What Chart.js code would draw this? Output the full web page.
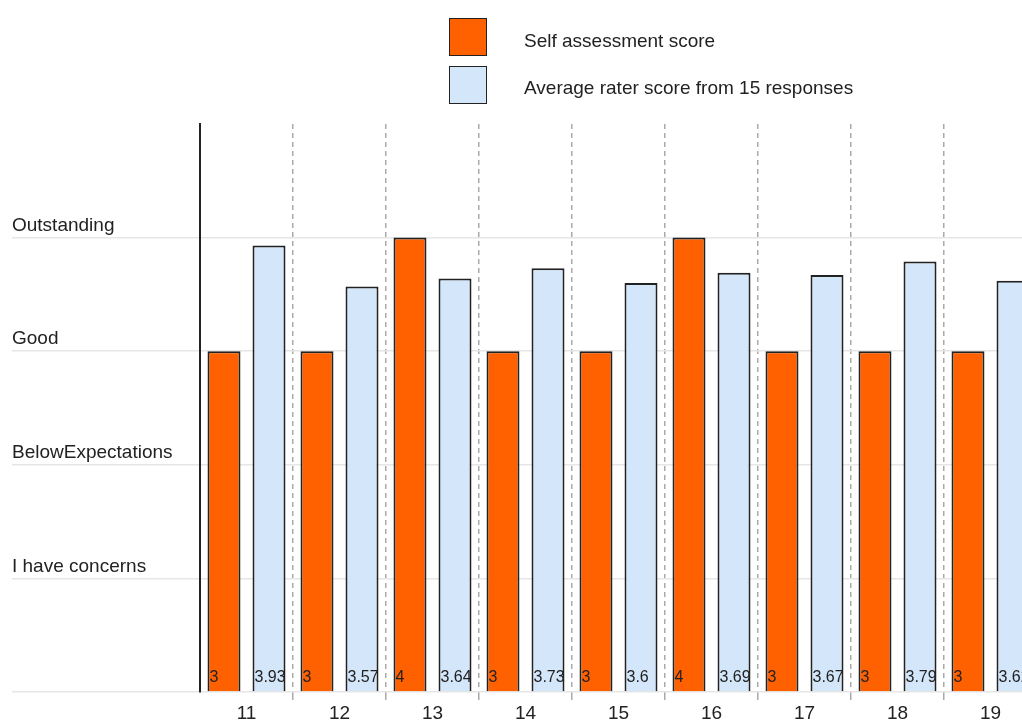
<!DOCTYPE html>
<html>
<head>
<meta charset="utf-8">
<script src="https://cdn.jsdelivr.net/npm/chart.js@4/dist/chart.umd.min.js"></script>
<style>
  html, body { margin: 0; padding: 0; background: #fff; overflow: hidden; width: 1022px; height: 722px; }
  #wrap { position: absolute; left: 0; top: 0; width: 1040px; height: 722px; }
  .leg { position: absolute; left: 449px; width: 36px; height: 36px; border: 1.5px solid #222; }
  .legt { position: absolute; left: 524px; font: 19px "Liberation Sans", Arial, sans-serif; color: #222; white-space: nowrap; }
</style>
</head>
<body>
<div id="wrap"><canvas id="c" width="1040" height="722"></canvas></div>
<div class="leg" style="top:18px;background:#FF6000"></div>
<div class="legt" style="top:30px">Self assessment score</div>
<div class="leg" style="top:66px;background:#D3E6FA"></div>
<div class="legt" style="top:77px">Average rater score from 15 responses</div>
<script>
const categories = ["11", "12", "13", "14", "15", "16", "17", "18", "19"];
const selfScores = [3, 3, 4, 3, 3, 4, 3, 3, 3];
const raterScores = [3.93, 3.57, 3.64, 3.73, 3.6, 3.69, 3.67, 3.79, 3.62];
const yLabels = { 1: "I have concerns", 2: "BelowExpectations", 3: "Good", 4: "Outstanding" };
const seriesNames = ["Self assessment score", "Average rater score from 15 responses"];

const FONT = '"Liberation Sans", Arial, sans-serif';

const barLabels = {
  id: 'barLabels',
  afterDatasetsDraw(chart) {
    const ctx = chart.ctx;
    ctx.save();
    ctx.font = '16px ' + FONT;
    ctx.fillStyle = '#222';
    ctx.textAlign = 'left';
    ctx.textBaseline = 'alphabetic';
    chart.data.datasets.forEach((ds, di) => {
      const meta = chart.getDatasetMeta(di);
      meta.data.forEach((bar, i) => {
        const left = bar.x - bar.width / 2;
        ctx.save();
        ctx.beginPath();
        ctx.rect(left, bar.y, bar.width - 1, bar.base - bar.y);
        ctx.clip();
        ctx.fillText(String(ds.data[i]), left + 2, bar.base - 9);
        ctx.restore();
      });
    });
    ctx.restore();
  }
};

new Chart(document.getElementById('c'), {
  type: 'bar',
  data: {
    labels: categories,
    datasets: [
      { label: seriesNames[0], data: selfScores, backgroundColor: '#FF6000', borderColor: '#222', borderWidth: 2,
        categoryPercentage: 0.968, barPercentage: 0.733 },
      { label: seriesNames[1], data: raterScores, backgroundColor: '#D3E6FA', borderColor: '#222', borderWidth: 2,
        categoryPercentage: 0.968, barPercentage: 0.733 }
    ]
  },
  options: {
    responsive: false,
    animation: false,
    layout: { padding: { left: 12, right: 3, top: 124, bottom: 0 } },
    plugins: { legend: { display: false }, tooltip: { enabled: false } },
    scales: {
      x: {
        grid: {
          color: (c) => (c.index === 0) ? 'rgba(0,0,0,0)' : '#aaa',
          lineWidth: 1.5, tickLength: 8, offset: true, drawOnChartArea: true
        },
        border: { display: false, dash: [5, 4] },
        ticks: { color: '#222', font: { family: FONT, size: 19 }, padding: 2, maxRotation: 0 },
        afterFit(s) { s.height = 30; }
      },
      y: {
        min: 0, max: 5,
        grid: {
          color: (c) => (c.tick && c.tick.value === 5) ? 'rgba(0,0,0,0)' : '#e6e6e6',
          lineWidth: 1.5, tickLength: 188
        },
        border: { display: true, color: '#222', width: 2 },
        ticks: {
          stepSize: 1,
          crossAlign: 'far',
          color: '#222',
          font: { family: FONT, size: 19, lineHeight: '24px' },
          callback: (v) => yLabels[v] ? [yLabels[v], ''] : ''
        },
        afterFit(s) { s.width = 188; }
      }
    }
  },
  plugins: [barLabels]
});
</script>
</body>
</html>
